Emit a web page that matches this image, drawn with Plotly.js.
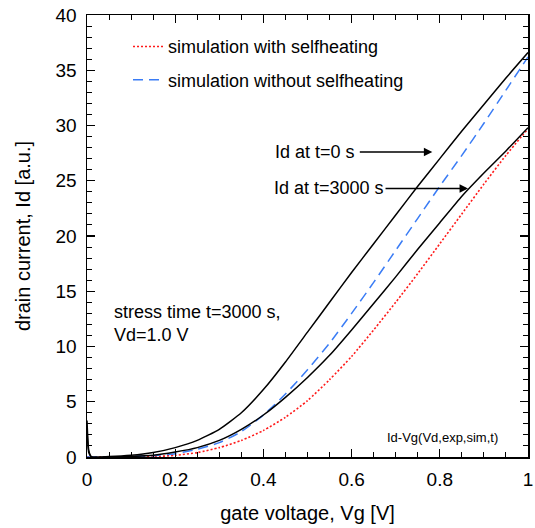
<!DOCTYPE html>
<html>
<head>
<meta charset="utf-8">
<script src="https://cdn.plot.ly/plotly-3.0.1.min.js"></script>
<style>html,body{margin:0;padding:0;background:#fff;}#chart{width:535px;height:528px;}</style>
</head>
<body>
<div id="chart"></div>
<script>
// gate voltage samples (V) and drain currents (a.u.)
const vgT0 = [0, 0.004, 0.01, 0.05, 0.1, 0.15, 0.2, 0.25, 0.3, 0.35, 0.4, 0.45, 0.5, 0.55, 0.6, 0.65, 0.7, 0.75, 0.8, 0.85, 0.9, 0.95, 1.0];
const idT0 = [3.3, 0.6, 0.02, 0.04, 0.15, 0.4, 0.85, 1.5, 2.5, 4.0, 6.1, 8.6, 11.3, 14.0, 16.7, 19.3, 21.9, 24.5, 27.0, 29.5, 31.9, 34.3, 36.6];

const vgT3000 = [0, 0.004, 0.01, 0.05, 0.1, 0.15, 0.2, 0.25, 0.3, 0.35, 0.4, 0.45, 0.5, 0.55, 0.6, 0.65, 0.7, 0.75, 0.8, 0.85, 0.9, 0.95, 1.0];
const idT3000 = [2.6, 0.4, 0.01, 0.01, 0.05, 0.15, 0.45, 0.85, 1.5, 2.5, 3.8, 5.4, 7.2, 9.2, 11.5, 13.9, 16.3, 18.8, 21.2, 23.6, 25.7, 27.7, 29.8];

const vgSim = [0, 0.05, 0.1, 0.15, 0.2, 0.25, 0.3, 0.35, 0.4, 0.45, 0.5, 0.55, 0.6, 0.65, 0.7, 0.75, 0.8, 0.85, 0.9, 0.95, 1.0];
const idNoSH = [0, 0.01, 0.05, 0.12, 0.3, 0.7, 1.3, 2.3, 3.8, 5.7, 7.9, 10.3, 13.0, 15.8, 18.7, 21.6, 24.5, 27.3, 30.2, 33.2, 36.2];
const idSH   = [0, 0, 0.0, 0.03, 0.15, 0.4, 0.85, 1.5, 2.4, 3.6, 5.1, 7.0, 9.1, 11.5, 14.0, 16.6, 19.3, 22.0, 24.7, 27.3, 29.7];

const seriesNames = ["simulation with selfheating", "simulation without selfheating"];

const FONT = "Liberation Sans, Arial, Helvetica, sans-serif";

const traces = [
  {x: vgSim, y: idSH, mode: "lines", name: seriesNames[0], legendgroup: "a",
   line: {color: "#ff1a1a", width: 1.6, dash: "2px,2px", shape: "spline", smoothing: 0.6}},
  {x: vgSim, y: idNoSH, mode: "lines", name: seriesNames[1], legendgroup: "b",
   line: {color: "#3a7cf5", width: 1.5, dash: "10px,6px", shape: "spline", smoothing: 0.6}},
  {x: vgT0, y: idT0, mode: "lines", showlegend: false, line: {color: "#000", width: 1.5, shape: "spline", smoothing: 0.5}},
  {x: vgT3000, y: idT3000, mode: "lines", showlegend: false, line: {color: "#000", width: 1.5, shape: "spline", smoothing: 0.5}}
];

const axisCommon = {
  showgrid: false, zeroline: false, showline: true, linecolor: "#000", linewidth: 1.5,
  mirror: "ticks", ticks: "inside", ticklen: 8, tickwidth: 1.2, tickcolor: "#000",
  tickfont: {family: FONT, size: 19, color: "#000"}, ticklabelstandoff: 5
};

const layout = {
  width: 535, height: 528,
  margin: {l: 87, r: 7, t: 15, b: 71},
  paper_bgcolor: "#fff", plot_bgcolor: "#fff",
  font: {family: FONT, color: "#000"},
  showlegend: true,
  legend: {x: 0.093, y: 0.97, xanchor: "left", yanchor: "top", bgcolor: "rgba(0,0,0,0)",
           font: {family: FONT, size: 18, color: "#000"}, traceorder: "grouped", tracegroupgap: 7},
  xaxis: Object.assign({}, axisCommon, {
    range: [0, 1], tickmode: "linear", tick0: 0, dtick: 0.2,
    minor: {dtick: 0.05, ticks: "inside", ticklen: 5, tickwidth: 1, tickcolor: "#000"},
    title: {text: "gate voltage, Vg [V]", font: {family: FONT, size: 20, color: "#000"}, standoff: 16}
  }),
  yaxis: Object.assign({}, axisCommon, {
    range: [0, 40], tickmode: "linear", tick0: 0, dtick: 5,
    minor: {dtick: 1, ticks: "inside", ticklen: 5, tickwidth: 1, tickcolor: "#000"},
    title: {text: "drain current, Id [a.u.]", font: {family: FONT, size: 20, color: "#000"}, standoff: 19}
  }),
  annotations: [
    {x: 0.783, y: 27.6, xref: "x", yref: "y", text: "Id at t=0 s", showarrow: true,
     ax: -117, ay: 0, arrowhead: 2, arrowsize: 1.3, arrowwidth: 1.3, arrowcolor: "#000", standoff: 0,
     font: {family: FONT, size: 18, color: "#000"}, borderpad: 4},
    {x: 0.864, y: 24.3, xref: "x", yref: "y", text: "Id at t=3000 s", showarrow: true,
     ax: -139, ay: 0, arrowhead: 2, arrowsize: 1.3, arrowwidth: 1.3, arrowcolor: "#000",
     font: {family: FONT, size: 18, color: "#000"}, borderpad: 1},
    {x: 0.057, y: 12.1, xref: "x", yref: "y", xanchor: "left", align: "left", showarrow: false,
     text: "stress time t=3000 s,<br>Vd=1.0 V", font: {family: FONT, size: 18, color: "#000"}},
    {x: 0.806, y: 1.8, xref: "x", yref: "y", showarrow: false,
     text: "Id-Vg(Vd,exp,sim,t)", font: {family: FONT, size: 13, color: "#000"}}
  ]
};

Plotly.newPlot("chart", traces, layout, {displayModeBar: false, staticPlot: true});
</script>
</body>
</html>
